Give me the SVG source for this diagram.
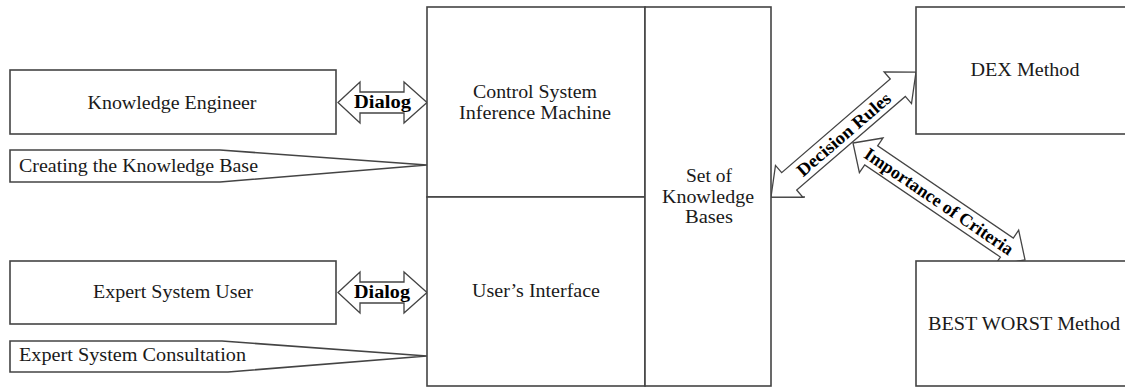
<svg xmlns="http://www.w3.org/2000/svg" width="1125" height="388" viewBox="0 0 1125 388">
<style>
.box{fill:#fff;stroke:#444;stroke-width:1.6}
.line{fill:none;stroke:#444;stroke-width:1.6}
.arr{fill:#fff;stroke:#444;stroke-width:1.3}
.t{font-family:"Liberation Serif","Times New Roman",serif;font-size:18px;fill:#1a1a1a}
.m{text-anchor:middle}
.b{font-weight:bold;fill:#000}
</style>
<rect width="1125" height="388" fill="#fff"/>
<g id="connectors">
<line class="line" x1="771" y1="197" x2="805" y2="197"/>
<g id="dialog1">
<polygon class="arr" points="338,102.5 360,82 360,92 404,92 404,82 427,102.5 404,123 404,113 360,113 360,123"/>
<text class="t b" x="354" y="108" textLength="57" lengthAdjust="spacingAndGlyphs">Dialog</text>
</g>
<g id="dialog2">
<polygon class="arr" points="338,292.5 360,272 360,282 404,282 404,272 427,292.5 404,313 404,303 360,303 360,313"/>
<text class="t b" x="354" y="298" textLength="56" lengthAdjust="spacingAndGlyphs">Dialog</text>
</g>
<g id="decision-rules" transform="translate(771,197) rotate(-40.76)">
<polygon class="arr" points="0,0 24,-21 24,-11.5 167.4,-11.5 167.4,-21 191.4,0 167.4,21 167.4,11.5 24,11.5 24,21"/>
<text class="t b m" x="96" y="6" textLength="118" lengthAdjust="spacingAndGlyphs">Decision Rules</text>
</g>
<g id="importance" transform="translate(853,143) rotate(34.2)">
<polygon class="arr" points="0,0 22,-21 22,-11.5 186,-11.5 186,-21 208,0 186,21 186,11.5 22,11.5 22,21"/>
<text class="t b m" x="104" y="6" textLength="176" lengthAdjust="spacingAndGlyphs">Importance of Criteria</text>
</g>
</g>
<g id="knowledge-engineer">
<rect class="box" x="10" y="70" width="326" height="64"/>
<text class="t m" x="172" y="109" textLength="169" lengthAdjust="spacingAndGlyphs">Knowledge Engineer</text>
</g>
<g id="creating-kb">
<polygon class="box" points="10,150 220,150 427,165 220,182 10,182"/>
<text class="t" x="19" y="172" textLength="239" lengthAdjust="spacingAndGlyphs">Creating the Knowledge Base</text>
</g>
<g id="expert-user">
<rect class="box" x="10" y="261" width="326" height="63"/>
<text class="t m" x="173" y="298" textLength="160" lengthAdjust="spacingAndGlyphs">Expert System User</text>
</g>
<g id="consultation">
<polygon class="box" points="10,341 222,341 427,356 228,372 10,372"/>
<text class="t" x="19" y="361" textLength="227" lengthAdjust="spacingAndGlyphs">Expert System Consultation</text>
</g>
<g id="control-system">
<rect class="box" x="427" y="7" width="218" height="190"/>
<text class="t m" x="535" y="98" textLength="124" lengthAdjust="spacingAndGlyphs">Control System</text>
<text class="t m" x="535" y="119" textLength="152" lengthAdjust="spacingAndGlyphs">Inference Machine</text>
</g>
<g id="user-interface">
<rect class="box" x="427" y="197" width="218" height="189"/>
<text class="t m" x="536" y="297" textLength="128" lengthAdjust="spacingAndGlyphs">User’s Interface</text>
</g>
<g id="knowledge-bases">
<rect class="box" x="645" y="7" width="126" height="379"/>
<text class="t m" x="709" y="182" textLength="46" lengthAdjust="spacingAndGlyphs">Set of</text>
<text class="t m" x="708" y="203" textLength="92" lengthAdjust="spacingAndGlyphs">Knowledge</text>
<text class="t m" x="709" y="223" textLength="48" lengthAdjust="spacingAndGlyphs">Bases</text>
</g>
<g id="dex">
<rect class="box" x="916" y="7" width="220" height="127"/>
<text class="t m" x="1025" y="76" textLength="109" lengthAdjust="spacingAndGlyphs">DEX Method</text>
</g>
<g id="best-worst">
<rect class="box" x="916" y="261" width="220" height="125"/>
<text class="t" x="928" y="330" textLength="192" lengthAdjust="spacingAndGlyphs">BEST WORST Method</text>
</g>
</svg>
